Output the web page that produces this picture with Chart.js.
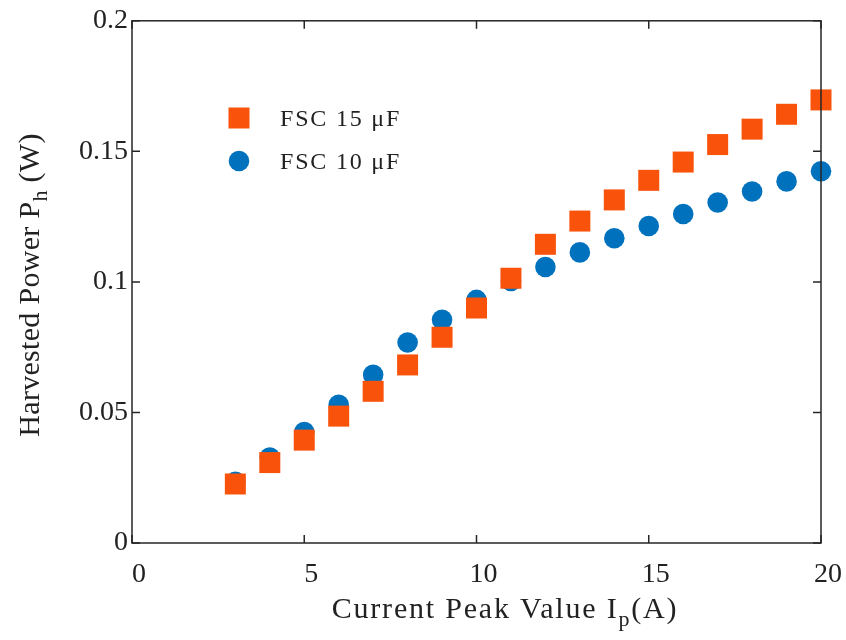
<!DOCTYPE html>
<html>
<head>
<meta charset="utf-8">
<script src="https://cdn.jsdelivr.net/npm/chart.js@4/dist/chart.umd.min.js"></script>
<style>
html,body{margin:0;padding:0;background:#fff;}
#wrap{width:846px;height:640px;}
</style>
</head>
<body>
<div id="wrap"><canvas id="c" width="846" height="640"></canvas></div>
<script>
const currentPeak = [3,4,5,6,7,8,9,10,11,12,13,14,15,16,17,18,19,20];
const powerFSC15 = [0.0226,0.0308,0.0394,0.0486,0.0581,0.0682,0.0788,0.0900,0.1014,0.1144,0.1233,0.1314,0.1389,0.1459,0.1526,0.1585,0.1642,0.1697];
const powerFSC10 = [0.0234,0.0327,0.0425,0.0529,0.0644,0.0768,0.0855,0.0931,0.1004,0.1057,0.1113,0.1167,0.1214,0.1260,0.1304,0.1346,0.1385,0.1424];
const seriesLabels = ['FSC 15 μF','FSC 10 μF'];
const yTickLabels = ['0','0.05','0.1','0.15','0.2'];
const xTitle = ['Current Peak Value I','p','(A)'];
const yTitle = ['Harvested Power P','h',' (W)'];

const FONT = '"Liberation Serif", "DejaVu Serif", serif';
const ORANGE = '#F9530B';
const BLUE = '#0072BD';
const AXIS = '#262626';

function toPts(xs, ys){ return xs.map((x,i)=>({x:x,y:ys[i]})); }

function drawSubText(ctx, parts, size, cx, cy, ls){
  ctx.letterSpacing = ls + 'px';
  const sub = Math.round(size*0.72);
  ctx.font = size + 'px ' + FONT;
  const w0 = ctx.measureText(parts[0]).width;
  ctx.font = sub + 'px ' + FONT;
  const w1 = ctx.measureText(parts[1]).width;
  ctx.font = size + 'px ' + FONT;
  const w2 = ctx.measureText(parts[2]).width;
  const total = w0 + w1 + w2;
  let x = cx - total/2;
  ctx.textBaseline = 'alphabetic';
  ctx.textAlign = 'left';
  ctx.fillText(parts[0], x, cy); x += w0;
  ctx.font = sub + 'px ' + FONT;
  ctx.fillText(parts[1], x, cy + size*0.28); x += w1;
  ctx.font = size + 'px ' + FONT;
  ctx.fillText(parts[2], x, cy);
  ctx.letterSpacing = '0px';
}

const framePlugin = {
  id: 'frame',
  afterDraw(chart){
    const ctx = chart.ctx;
    const a = chart.chartArea;
    const xs = chart.scales.x, ys = chart.scales.y;
    ctx.save();
    ctx.strokeStyle = AXIS;
    ctx.lineWidth = 1.5;
    ctx.strokeRect(a.left, a.top, a.right - a.left, a.bottom - a.top);
    const tl = 8;
    ctx.beginPath();
    xs.ticks.forEach(t=>{
      const px = xs.getPixelForValue(t.value);
      ctx.moveTo(px, a.bottom); ctx.lineTo(px, a.bottom - tl);
      ctx.moveTo(px, a.top); ctx.lineTo(px, a.top + tl);
    });
    ys.ticks.forEach(t=>{
      const py = ys.getPixelForValue(t.value);
      ctx.moveTo(a.left, py); ctx.lineTo(a.left + tl, py);
      ctx.moveTo(a.right, py); ctx.lineTo(a.right - tl, py);
    });
    ctx.stroke();

    // axis titles
    ctx.fillStyle = '#222';
    drawSubText(ctx, xTitle, 30, 505, 618, 1.8);
    ctx.save();
    ctx.translate(39, 285);
    ctx.rotate(-Math.PI/2);
    drawSubText(ctx, yTitle, 30, 0, 0, 0.3);
    ctx.restore();

    // legend
    const ds = chart.data.datasets;
    ctx.font = '24px ' + FONT;
    ctx.letterSpacing = '1.8px';
    ctx.textBaseline = 'middle';
    ctx.textAlign = 'left';
    ctx.fillStyle = ds[0].backgroundColor;
    ctx.fillRect(239 - 10.5, 118 - 10.5, 21, 21);
    ctx.fillStyle = '#222';
    ctx.fillText(ds[0].label, 280, 120);
    ctx.fillStyle = ds[1].backgroundColor;
    ctx.beginPath();
    ctx.arc(239, 161, 10.3, 0, Math.PI*2);
    ctx.fill();
    ctx.fillStyle = '#222';
    ctx.fillText(ds[1].label, 280, 163);
    ctx.letterSpacing = '0px';
    ctx.restore();
  }
};

new Chart(document.getElementById('c'), {
  type: 'scatter',
  data: {
    datasets: [
      {
        label: seriesLabels[0],
        data: toPts(currentPeak, powerFSC15),
        pointStyle: 'rect',
        pointRadius: 14.85,
        pointHoverRadius: 14.85,
        backgroundColor: ORANGE,
        borderColor: ORANGE,
        pointBorderWidth: 0,
        showLine: false,
        clip: false
      },
      {
        label: seriesLabels[1],
        data: toPts(currentPeak, powerFSC10),
        pointStyle: 'circle',
        pointRadius: 10.3,
        pointHoverRadius: 10.3,
        backgroundColor: BLUE,
        borderColor: BLUE,
        pointBorderWidth: 0,
        showLine: false,
        clip: false
      }
    ]
  },
  options: {
    responsive: false,
    animation: false,
    events: [],
    layout: { padding: { left: 0, top: 19, right: 25, bottom: 0 } },
    plugins: {
      legend: { display: false },
      tooltip: { enabled: false }
    },
    scales: {
      x: {
        type: 'linear',
        min: 0, max: 20,
        afterFit(s){ s.height = 97; s.paddingRight = 0; s.paddingLeft = 0; },
        grid: { display: false, drawTicks: false },
        border: { display: false },
        ticks: {
          stepSize: 5,
          color: '#222',
          font: { family: FONT, size: 28 },
          padding: 15,
          labelOffset: 7
        }
      },
      y: {
        min: 0, max: 0.2,
        afterFit(s){ s.width = 132; },
        grid: { display: false, drawTicks: false },
        border: { display: false },
        ticks: {
          stepSize: 0.05,
          color: '#222',
          font: { family: FONT, size: 28 },
          padding: 4,
          callback(v, i){ return yTickLabels[i]; }
        }
      }
    }
  },
  plugins: [framePlugin]
});
</script>
</body>
</html>
